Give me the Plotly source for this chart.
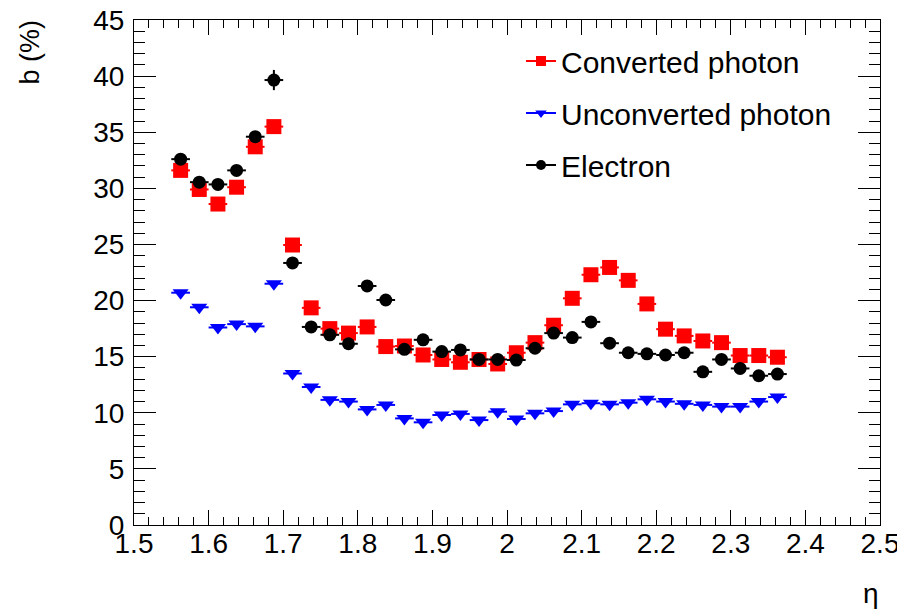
import plotly.graph_objects as go

# bin centres in eta (bin width 0.025)
eta = [1.5625, 1.5875, 1.6125, 1.6375, 1.6625, 1.6875, 1.7125, 1.7375, 1.7625, 1.7875,
       1.8125, 1.8375, 1.8625, 1.8875, 1.9125, 1.9375, 1.9625, 1.9875, 2.0125, 2.0375,
       2.0625, 2.0875, 2.1125, 2.1375, 2.1625, 2.1875, 2.2125, 2.2375, 2.2625, 2.2875,
       2.3125, 2.3375, 2.3625]
half_bin = 0.0125

converted = [31.6, 29.9, 28.6, 30.1, 33.7, 35.5, 24.95, 19.35, 17.5, 17.1,
             17.65, 15.9, 15.95, 15.15, 14.75, 14.5, 14.75, 14.35, 15.35, 16.25,
             17.8, 20.2, 22.3, 22.95, 21.8, 19.7, 17.45, 16.85, 16.4, 16.25,
             15.1, 15.1, 14.95]
converted_err = [0.35, 0.35, 0.3, 0.3, 0.35, 0.3, 0.3, 0.3, 0.3, 0.3,
                 0.3, 0.25, 0.25, 0.25, 0.25, 0.25, 0.25, 0.25, 0.25, 0.25,
                 0.3, 0.3, 0.3, 0.3, 0.3, 0.3, 0.3, 0.3, 0.3, 0.3,
                 0.3, 0.3, 0.3]

unconverted = [20.7, 19.4, 17.6, 17.9, 17.7, 21.5, 13.5, 12.3, 11.15, 11.0,
               10.3, 10.7, 9.5, 9.15, 9.8, 9.9, 9.35, 10.1, 9.45, 9.95,
               10.15, 10.75, 10.85, 10.75, 10.9, 11.2, 11.0, 10.8, 10.7, 10.55,
               10.55, 11.0, 11.4]
unconverted_err = [0.2] * len(eta)

electron = [32.6, 30.55, 30.35, 31.6, 34.6, 39.65, 23.35, 17.65, 16.95, 16.15,
            21.3, 20.05, 15.65, 16.5, 15.45, 15.6, 14.75, 14.75, 14.7, 15.75,
            17.1, 16.7, 18.1, 16.2, 15.35, 15.25, 15.15, 15.35, 13.65, 14.75,
            13.95, 13.3, 13.45]
electron_err = [0.4, 0.4, 0.4, 0.45, 0.5, 0.9, 0.4, 0.35, 0.35, 0.35,
                0.35, 0.35, 0.3, 0.3, 0.3, 0.3, 0.3, 0.3, 0.3, 0.3,
                0.3, 0.3, 0.3, 0.3, 0.3, 0.3, 0.3, 0.3, 0.3, 0.3,
                0.3, 0.3, 0.3]

series = [
    ("Converted photon", converted, converted_err, "#ff0000", "square", 15),
    ("Unconverted photon", unconverted, unconverted_err, "#0000ff", "triangle-down", 14),
    ("Electron", electron, electron_err, "#000000", "circle", 13),
]

FONT = "Liberation Sans, Arial, Helvetica, sans-serif"

# the html page puts the plot 8px in from the top-left corner
W, H = 897, 603
ML, MR, MT, MB = 126, 25, 12, 86
PW, PH = W - ML - MR, H - MT - MB


def px_x(sx):
    return (sx - 8 - ML) / PW


def px_y(sy):
    return 1 - (sy - 8 - MT) / PH


fig = go.Figure()
for i, (name, vals, errs, col, sym, size) in enumerate(series):
    fig.add_trace(go.Scatter(
        x=eta, y=vals, mode="markers", showlegend=False,
        marker=dict(color=col, symbol=sym, size=size, line=dict(width=0)),
        error_x=dict(type="constant", value=half_bin, color=col, thickness=2, width=0),
        error_y=dict(type="data", array=errs, color=col, thickness=2, width=0),
    ))
    # legend entry (line + marker, ROOT "lp" style)
    fig.add_trace(go.Scatter(
        x=[None], y=[None], mode="lines+markers", name=name,
        legendgroup=f"g{i}",
        line=dict(color=col, width=2),
        marker=dict(color=col, symbol=sym, size=10),
    ))

axis_common = dict(
    showline=True, linecolor="black", linewidth=1, mirror="allticks",
    ticks="inside", tickcolor="black", tickwidth=1,
    showgrid=False, zeroline=False, automargin=False,
    ticklabeloverflow="allow",
    tickfont=dict(family=FONT, size=28, color="black"),
)

fig.update_xaxes(range=[1.5, 2.5], dtick=0.1, tick0=1.5, ticklen=15, ticklabelstandoff=-7,
                 minor=dict(dtick=0.02, ticks="inside", ticklen=8, tickcolor="black", showgrid=False),
                 **axis_common)
fig.update_yaxes(range=[0, 45], dtick=5, tick0=0, ticklen=22, ticklabelstandoff=3,
                 minor=dict(dtick=1, ticks="inside", ticklen=11, tickcolor="black", showgrid=False),
                 **axis_common)

fig.update_layout(
    width=W, height=H,
    margin=dict(l=ML, r=MR, t=MT, b=MB, autoexpand=False),
    paper_bgcolor="white", plot_bgcolor="white",
    font=dict(family=FONT, color="black"),
    legend=dict(
        x=px_x(521), y=px_y(35), xanchor="left", yanchor="top",
        font=dict(family=FONT, size=30, color="black"),
        bgcolor="rgba(0,0,0,0)", traceorder="grouped", tracegroupgap=10,
    ),
    annotations=[
        dict(text="b (%)", xref="paper", yref="paper", x=px_x(29), y=px_y(17),
             xanchor="center", yanchor="top", textangle=-90, showarrow=False,
             font=dict(family=FONT, size=27, color="black")),
        dict(text="η", xref="paper", yref="paper", x=px_x(881), y=px_y(576),
             xanchor="right", yanchor="top", showarrow=False,
             font=dict(family=FONT, size=28, color="black")),
    ],
)

fig.write_html("out.html")
